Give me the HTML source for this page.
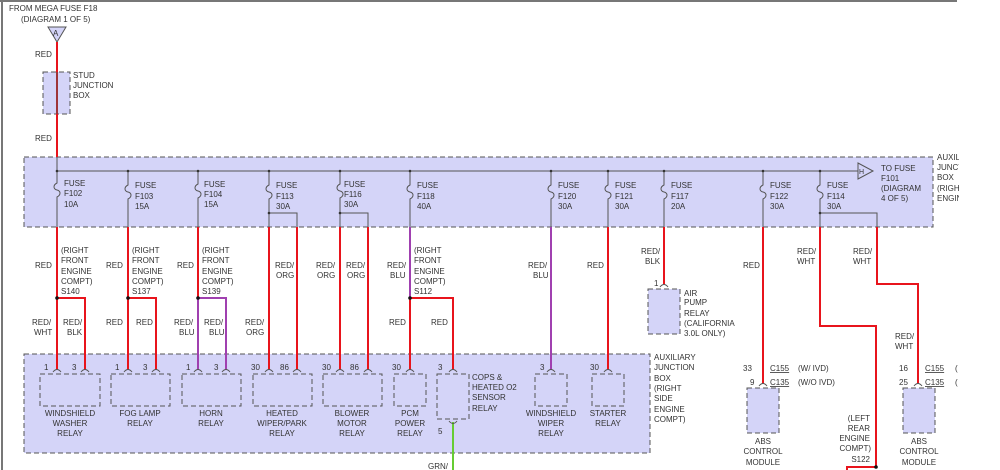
<!DOCTYPE html>
<html><head><meta charset="utf-8"><style>
html,body{margin:0;padding:0;background:#fff;}
svg{display:block;}
text{font-family:"Liberation Sans",sans-serif;font-size:8px;fill:#333;}
.box{fill:#d4d4f8;stroke:#555;stroke-width:1;stroke-dasharray:5,3;}
.g{stroke:#555;stroke-width:1;fill:none;}
.r{stroke:#e8141c;stroke-width:2;fill:none;}
.p{stroke:#a040b0;stroke-width:2;fill:none;}
.pin{stroke:#555;stroke-width:1;fill:none;}
.c text{text-anchor:middle;}
</style></head><body>
<svg width="1000" height="470" viewBox="0 0 1000 470" xmlns="http://www.w3.org/2000/svg">
<line x1="2" y1="0" x2="2" y2="470" stroke="#777" stroke-width="2"/>
<line x1="0" y1="1" x2="957" y2="1" stroke="#777" stroke-width="2"/>

<text x="9" y="11">FROM MEGA FUSE F18</text>
<text x="21" y="22">(DIAGRAM 1 OF 5)</text>
<polygon points="48,27 66,27 57,42" fill="#d4d4f8" stroke="#555"/>
<text x="53" y="36">A</text>
<rect class="box" x="43" y="72" width="27" height="42"/>
<text x="73" y="78">STUD</text><text x="73" y="88">JUNCTION</text><text x="73" y="98">BOX</text>
<text x="35" y="57">RED</text><text x="35" y="141">RED</text>

<rect class="box" x="24" y="157" width="909" height="70"/>
<line class="r" x1="57" y1="42" x2="57" y2="157"/>
<line x1="57" y1="72" x2="57" y2="114" stroke="#555"/>
<line class="g" x1="57" y1="157" x2="57" y2="171"/>
<line class="g" x1="57" y1="171" x2="858" y2="171"/>
<polygon points="858,163 873,171 858,179" fill="#d4d4f8" stroke="#555"/>
<text x="859" y="174" style="font-size:7px">H</text>
<text x="881" y="171">TO FUSE</text><text x="881" y="181">F101</text><text x="881" y="191">(DIAGRAM</text><text x="881" y="201">4 OF 5)</text>
<text x="937" y="160">AUXILIARY</text><text x="937" y="170">JUNCTION</text><text x="937" y="180">BOX</text><text x="937" y="191">(RIGHT</text><text x="937" y="201">ENGINE</text>

<g class="g">
<path d="M57,171V183c-4,2-4,6,0,7c4,1,4,5,0,7V227"/>
<path d="M128,171V185c-4,2-4,6,0,7c4,1,4,5,0,7V227"/>
<path d="M198,171V184c-4,2-4,6,0,7c4,1,4,5,0,7V227"/>
<path d="M269,171V185c-4,2-4,6,0,7c4,1,4,5,0,7V227M269,213H297V227"/>
<path d="M340,171V184c-4,2-4,6,0,7c4,1,4,5,0,7V227M340,213H368V227"/>
<path d="M410,171V185c-4,2-4,6,0,7c4,1,4,5,0,7V227"/>
<path d="M551,171V185c-4,2-4,6,0,7c4,1,4,5,0,7V227"/>
<path d="M608,171V185c-4,2-4,6,0,7c4,1,4,5,0,7V227"/>
<path d="M664,171V185c-4,2-4,6,0,7c4,1,4,5,0,7V227"/>
<path d="M763,171V185c-4,2-4,6,0,7c4,1,4,5,0,7V227"/>
<path d="M820,171V185c-4,2-4,6,0,7c4,1,4,5,0,7V227M820,213H877V227"/>
</g>
<g fill="#333">
<circle cx="57" cy="171" r="1.3"/><circle cx="128" cy="171" r="1.3"/><circle cx="198" cy="171" r="1.3"/><circle cx="269" cy="171" r="1.3"/><circle cx="340" cy="171" r="1.3"/><circle cx="410" cy="171" r="1.3"/><circle cx="551" cy="171" r="1.3"/><circle cx="608" cy="171" r="1.3"/><circle cx="664" cy="171" r="1.3"/><circle cx="763" cy="171" r="1.3"/><circle cx="820" cy="171" r="1.3"/>
<circle cx="269" cy="213" r="1.3"/><circle cx="340" cy="213" r="1.3"/><circle cx="820" cy="213" r="1.3"/>
</g>
<g>
<text x="64" y="186">FUSE</text><text x="64" y="196">F102</text><text x="64" y="207">10A</text>
<text x="135" y="188">FUSE</text><text x="135" y="199">F103</text><text x="135" y="209">15A</text>
<text x="204" y="187">FUSE</text><text x="204" y="197">F104</text><text x="204" y="207">15A</text>
<text x="276" y="188">FUSE</text><text x="276" y="199">F113</text><text x="276" y="209">30A</text>
<text x="344" y="187">FUSE</text><text x="344" y="197">F116</text><text x="344" y="207">30A</text>
<text x="417" y="188">FUSE</text><text x="417" y="199">F118</text><text x="417" y="209">40A</text>
<text x="558" y="188">FUSE</text><text x="558" y="199">F120</text><text x="558" y="209">30A</text>
<text x="615" y="188">FUSE</text><text x="615" y="199">F121</text><text x="615" y="209">30A</text>
<text x="671" y="188">FUSE</text><text x="671" y="199">F117</text><text x="671" y="209">20A</text>
<text x="770" y="188">FUSE</text><text x="770" y="199">F122</text><text x="770" y="209">30A</text>
<text x="827" y="188">FUSE</text><text x="827" y="199">F114</text><text x="827" y="209">30A</text>
</g>

<rect class="box" x="24" y="354" width="626" height="99"/>
<text x="654" y="360">AUXILIARY</text><text x="654" y="370">JUNCTION</text><text x="654" y="381">BOX</text><text x="654" y="391">(RIGHT</text><text x="654" y="401">SIDE</text><text x="654" y="412">ENGINE</text><text x="654" y="422">COMPT)</text>

<path class="r" d="M57,227V370M57,298H85V370"/>
<path class="r" d="M128,227V370M128,298H156V370"/>
<path class="r" d="M198,227V298"/><path class="p" d="M198,298V370M198,298H226V370"/>
<path class="r" d="M269,227V370M297,227V370"/>
<path class="r" d="M340,227V370M368,227V370"/>
<path class="p" d="M410,227V298"/><path class="r" d="M410,298V370M410,298H453V370"/>
<path class="p" d="M551,227V370"/>
<path class="r" d="M608,227V370"/>
<path class="r" d="M664,227V284"/>
<path class="r" d="M763,227V384"/>
<path class="r" d="M820,227V326H876V467H847V470"/>
<path class="r" d="M877,227V284H918V384"/>
<line x1="453" y1="422" x2="453" y2="470" stroke="#6c3" stroke-width="2"/>
<g fill="#111"><circle cx="57" cy="298" r="1.8"/><circle cx="128" cy="298" r="1.8"/><circle cx="198" cy="298" r="1.8"/><circle cx="410" cy="298" r="1.8"/><circle cx="876" cy="467" r="1.8"/></g>

<text x="35" y="268">RED</text>
<text x="61" y="253">(RIGHT</text><text x="61" y="263">FRONT</text><text x="61" y="274">ENGINE</text><text x="61" y="284">COMPT)</text><text x="61" y="294">S140</text>
<text x="106" y="268">RED</text>
<text x="132" y="253">(RIGHT</text><text x="132" y="263">FRONT</text><text x="132" y="274">ENGINE</text><text x="132" y="284">COMPT)</text><text x="132" y="294">S137</text>
<text x="177" y="268">RED</text>
<text x="202" y="253">(RIGHT</text><text x="202" y="263">FRONT</text><text x="202" y="274">ENGINE</text><text x="202" y="284">COMPT)</text><text x="202" y="294">S139</text>
<text x="275" y="268">RED/</text><text x="276" y="278">ORG</text>
<text x="316" y="268">RED/</text><text x="317" y="278">ORG</text>
<text x="346" y="268">RED/</text><text x="347" y="278">ORG</text>
<text x="387" y="268">RED/</text><text x="390" y="278">BLU</text>
<text x="414" y="253">(RIGHT</text><text x="414" y="263">FRONT</text><text x="414" y="274">ENGINE</text><text x="414" y="284">COMPT)</text><text x="414" y="294">S112</text>
<text x="528" y="268">RED/</text><text x="533" y="278">BLU</text>
<text x="587" y="268">RED</text>
<text x="641" y="254">RED/</text><text x="645" y="264">BLK</text>
<text x="743" y="268">RED</text>
<text x="797" y="254">RED/</text><text x="797" y="264">WHT</text>
<text x="853" y="254">RED/</text><text x="853" y="264">WHT</text>
<text x="895" y="339">RED/</text><text x="895" y="349">WHT</text>
<text x="32" y="325">RED/</text><text x="34" y="335">WHT</text>
<text x="63" y="325">RED/</text><text x="67" y="335">BLK</text>
<text x="106" y="325">RED</text><text x="136" y="325">RED</text>
<text x="174" y="325">RED/</text><text x="179" y="335">BLU</text>
<text x="204" y="325">RED/</text><text x="209" y="335">BLU</text>
<text x="245" y="325">RED/</text><text x="246" y="335">ORG</text>
<text x="389" y="325">RED</text><text x="431" y="325">RED</text>
<text x="428" y="469">GRN/</text>

<g>
<rect class="box" x="40" y="374" width="60" height="32"/>
<rect class="box" x="111" y="374" width="59" height="32"/>
<rect class="box" x="182" y="374" width="59" height="32"/>
<rect class="box" x="253" y="374" width="59" height="32"/>
<rect class="box" x="323" y="374" width="59" height="32"/>
<rect class="box" x="394" y="374" width="32" height="32"/>
<rect class="box" x="437" y="374" width="32" height="45"/>
<rect class="box" x="535" y="374" width="32" height="32"/>
<rect class="box" x="592" y="374" width="32" height="32"/>
<rect class="box" x="648" y="289" width="32" height="45"/>
<rect class="box" x="747" y="388" width="32" height="45"/>
<rect class="box" x="903" y="388" width="32" height="45"/>
</g>
<g class="pin">
<path d="M53,372q4,-5 8,0M81,372q4,-5 8,0M124,372q4,-5 8,0M152,372q4,-5 8,0M194,372q4,-5 8,0M222,372q4,-5 8,0M265,372q4,-5 8,0M293,372q4,-5 8,0M336,372q4,-5 8,0M364,372q4,-5 8,0M406,372q4,-5 8,0M449,372q4,-5 8,0M547,372q4,-5 8,0M604,372q4,-5 8,0M660,287q4,-5 8,0M759,386q4,-5 8,0M914,386q4,-5 8,0M449,421q4,5 8,0"/>
</g>
<g>
<text x="44" y="370">1</text><text x="72" y="370">3</text>
<text x="115" y="370">1</text><text x="143" y="370">3</text>
<text x="186" y="370">1</text><text x="214" y="370">3</text>
<text x="251" y="370">30</text><text x="280" y="370">86</text>
<text x="322" y="370">30</text><text x="350" y="370">86</text>
<text x="392" y="370">30</text><text x="438" y="370">3</text>
<text x="540" y="370">3</text><text x="590" y="370">30</text>
<text x="654" y="286">1</text><text x="438" y="434">5</text>
</g>
<text x="472" y="380">COPS &amp;</text><text x="472" y="390">HEATED O2</text><text x="472" y="400">SENSOR</text><text x="472" y="411">RELAY</text>
<text x="684" y="296">AIR</text><text x="684" y="305">PUMP</text><text x="684" y="316">RELAY</text><text x="684" y="326">(CALIFORNIA</text><text x="684" y="336">3.0L ONLY)</text>
<g class="c">
<text x="70" y="416">WINDSHIELD</text><text x="70" y="426">WASHER</text><text x="70" y="436">RELAY</text>
<text x="140" y="416">FOG LAMP</text><text x="140" y="426">RELAY</text>
<text x="211" y="416">HORN</text><text x="211" y="426">RELAY</text>
<text x="282" y="416">HEATED</text><text x="282" y="426">WIPER/PARK</text><text x="282" y="436">RELAY</text>
<text x="352" y="416">BLOWER</text><text x="352" y="426">MOTOR</text><text x="352" y="436">RELAY</text>
<text x="410" y="416">PCM</text><text x="410" y="426">POWER</text><text x="410" y="436">RELAY</text>
<text x="551" y="416">WINDSHIELD</text><text x="551" y="426">WIPER</text><text x="551" y="436">RELAY</text>
<text x="608" y="416">STARTER</text><text x="608" y="426">RELAY</text>
<text x="763" y="444">ABS</text><text x="763" y="454">CONTROL</text><text x="763" y="465">MODULE</text>
<text x="919" y="444">ABS</text><text x="919" y="454">CONTROL</text><text x="919" y="465">MODULE</text>
</g>
<text x="870" y="421" text-anchor="end">(LEFT</text><text x="870" y="431" text-anchor="end">REAR</text><text x="870" y="441" text-anchor="end">ENGINE</text><text x="871" y="451" text-anchor="end">COMPT)</text><text x="870" y="462" text-anchor="end">S122</text>
<text x="743" y="371">33</text><text x="770" y="371" text-decoration="underline">C155</text><text x="798" y="371">(W/ IVD)</text>
<text x="750" y="385">9</text><text x="770" y="385" text-decoration="underline">C135</text><text x="798" y="385">(W/O IVD)</text>
<text x="899" y="371">16</text><text x="925" y="371" text-decoration="underline">C155</text><text x="955" y="371">(</text>
<text x="899" y="385">25</text><text x="925" y="385" text-decoration="underline">C135</text><text x="955" y="385">(</text>
<rect x="959" y="0" width="41" height="470" fill="#fff"/>
</svg>
</body></html>
